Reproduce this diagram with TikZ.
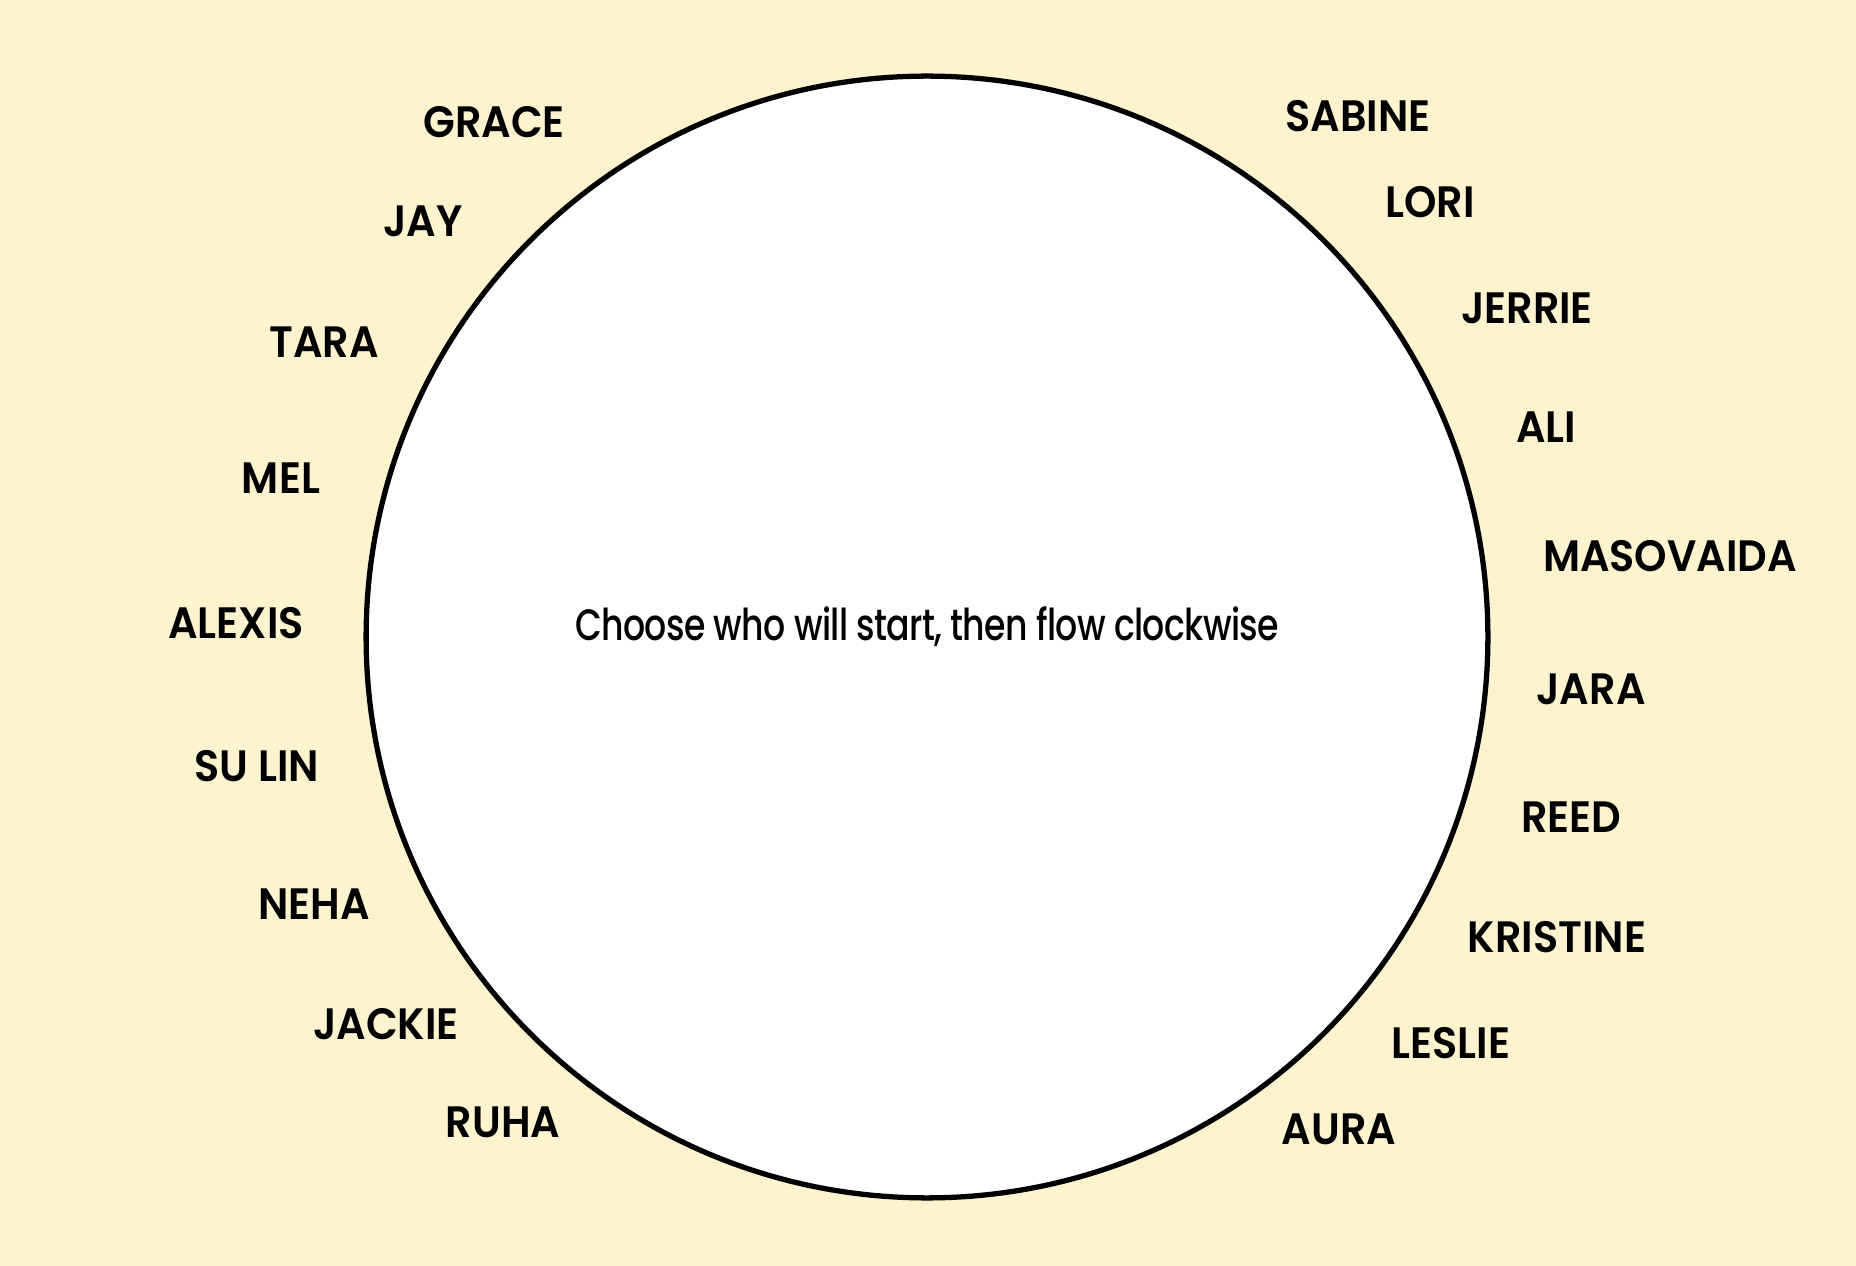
\documentclass[tikz,border=0pt]{standalone}
\usepackage{fontspec}
\setmainfont{Poppins}[FakeStretch=0.94, BoldFont={Poppins SemiBold}, BoldFeatures={FakeStretch=0.94}]
\newfontfamily\centerfont{Poppins Medium}[FakeStretch=0.79, LetterSpace=-1.5]
\definecolor{bgcream}{RGB}{253,243,206}
\begin{document}
\begin{tikzpicture}[x=0.02cm,y=-0.02cm,
  namelbl/.style={font=\fontsize{25}{30}\selectfont\bfseries, inner sep=0pt, anchor=center},
  ring/.style={circle, draw=black, fill=white, line width=3pt, minimum size=22.44cm, inner sep=0pt}]
\fill[bgcream] (0,0) rectangle (1856,1266);
\useasboundingbox (0,0) rectangle (1856,1266);
\node[ring] (ring) at (927,637) {};
\node[font=\centerfont\fontsize{25}{30}\selectfont, inner sep=0pt, text depth=0pt] (center) at (927,624) {Choose who will start, then flow clockwise};
% left side
\node[namelbl] (grace) at (494,122) {GRACE};
\node[namelbl] (jay) at (423,221) {JAY};
\node[namelbl] (tara) at (324,342) {TARA};
\node[namelbl] (mel) at (281,478) {MEL};
\node[namelbl] (alexis) at (236,623) {ALEXIS};
\node[namelbl] (sulin) at (257,766) {SU LIN};
\node[namelbl] (neha) at (314,904) {NEHA};
\node[namelbl] (jackie) at (386,1024) {JACKIE};
\node[namelbl] (ruha) at (503,1122) {RUHA};
% right side
\node[namelbl] (sabine) at (1358,116) {SABINE};
\node[namelbl] (lori) at (1430,202) {LORI};
\node[namelbl] (jerrie) at (1527,308) {JERRIE};
\node[namelbl] (ali) at (1546,427) {ALI};
\node[namelbl] (masovaida) at (1670,556) {MASOVAIDA};
\node[namelbl] (jara) at (1591,689) {JARA};
\node[namelbl] (reed) at (1571,817) {REED};
\node[namelbl] (kristine) at (1557,937) {KRISTINE};
\node[namelbl] (leslie) at (1451,1043) {LESLIE};
\node[namelbl] (aura) at (1339,1129) {AURA};
\end{tikzpicture}
\end{document}
